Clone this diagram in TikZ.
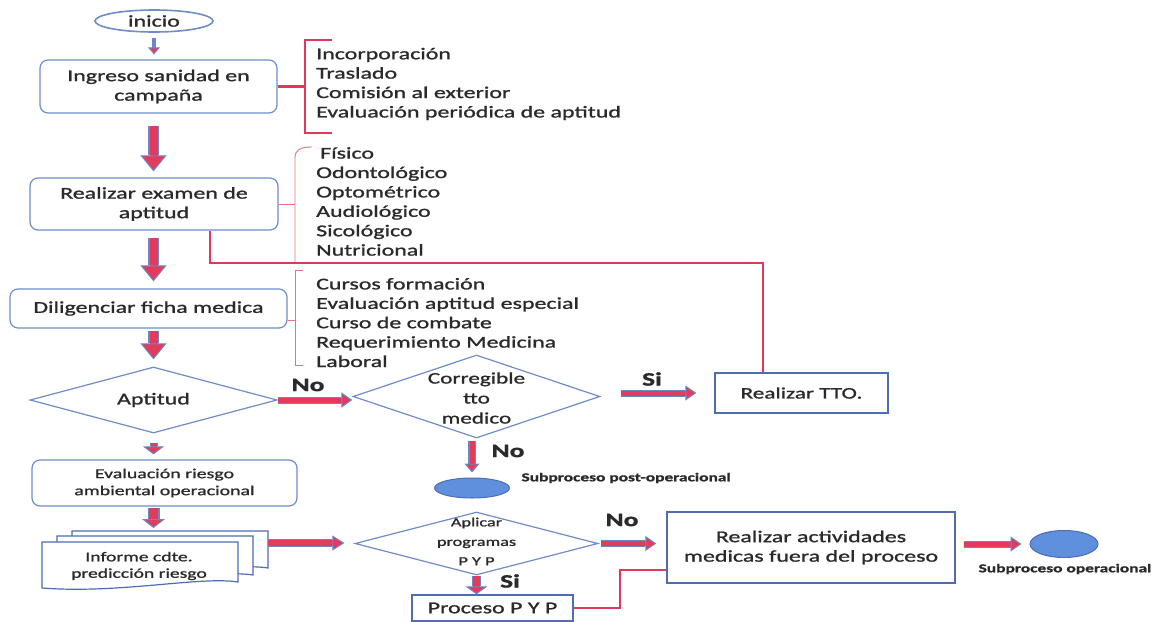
\documentclass[tikz,border=0pt]{standalone}
\usepackage{fontspec}
\setmainfont{Carlito}[FakeStretch=1.45, FakeBold=1.2]
\usetikzlibrary{shapes.geometric,arrows.meta}
\definecolor{arrred}{HTML}{E23B5C}
\definecolor{arrblue}{HTML}{6D86C6}
\definecolor{boxblue}{HTML}{6F8DC9}
\definecolor{boxblue2}{HTML}{4E6DB3}
\definecolor{brred}{HTML}{E0385A}
\definecolor{thinred}{HTML}{E8707F}
\definecolor{txtc}{HTML}{2A2A2A}
\definecolor{ellfill}{HTML}{5E90DE}
\begin{document}
\begin{tikzpicture}[x=1pt,y=-1pt,
  font=\fontsize{16.5}{19.5}\selectfont, text=txtc,
  rbox/.style={draw=boxblue, line width=1.2pt, rounded corners=8pt, fill=white, align=center, inner sep=0pt},
  sbox/.style={draw=boxblue2, line width=1.4pt, fill=white, align=center, inner sep=0pt},
  dia/.style={draw=boxblue, line width=1.2pt, diamond, inner sep=0pt},
  ctext/.style={align=center, inner sep=0pt},
  lbl/.style={font=\fontsize{19}{20}\selectfont\bfseries, text=txtc},
  small/.style={font=\fontsize{12}{14}\selectfont\bfseries, text=txtc},
  list/.style={anchor=west, align=left, inner sep=0pt, font=\fontsize{16.5}{19.4}\selectfont},
  docshape/.style={draw=boxblue2, line width=1.2pt, fill=white},
  br1/.style={draw=brred, line width=2.5pt},
  br2/.style={draw=thinred, line width=0.9pt},
  redline/.style={draw=brred, line width=1.6pt},
  barrow/.style n args={4}{draw=arrred, line width=#1, -{Triangle[width=#2,length=#3,line width=1pt,fill=arrred,color=arrblue]}, preaction={draw=arrblue, line width=#4, -, shorten >=#3}},
  ellnode/.style={ellipse, fill=ellfill, draw=boxblue2, line width=1pt, inner sep=0pt}
]
\useasboundingbox[fill=white] (0,0) rectangle (1172,621);

% ---- nodes ----
\node[draw=boxblue, line width=1.6pt, ellipse, minimum width=118pt, minimum height=22pt, inner sep=0pt, fill=white] (ini) at (154,21) {inicio};
\node[rbox, minimum width=237pt, minimum height=53pt] (ing) at (158.5,86.5) {Ingreso sanidad en\\campaña};
\node[rbox, minimum width=248pt, minimum height=52pt] (rea) at (154,204) {Realizar examen de\\aptitud};
\node[rbox, minimum width=277pt, minimum height=39pt] (dil) at (148.5,308.5) {Diligenciar ficha medica};
\node[dia, minimum width=247pt, minimum height=66pt] (apt) at (153.5,400) {};
\node[ctext] (aptt) at (apt) {Aptitud};
\node[rbox, minimum width=265pt, minimum height=46pt, font=\fontsize{13.7}{17}\selectfont] (eva) at (164.5,483) {Evaluación riesgo\\ambiental operacional};

% multi-document
\draw[docshape] (72,531) -- (268,531) -- (268,568) .. controls (230,562) and (150,580) .. (72,574) -- cycle;
\draw[docshape] (57,536) -- (253,536) -- (253,575) .. controls (215,569) and (135,587) .. (57,581) -- cycle;
\draw[docshape] (42,542) -- (238,542) -- (238,582) .. controls (200,576) and (120,594) .. (42,588) -- cycle;
\node[ctext, font=\fontsize{13.5}{16.5}\selectfont] (inf) at (139,566) {Informe cdte.\\predicción riesgo};
\coordinate (docT) at (153.5,531);
\coordinate (infR) at (268,543);

\node[dia, minimum width=247pt, minimum height=83pt] (cor) at (476.5,396.5) {};
\node[ctext, font=\fontsize{16}{20}\selectfont] (cort) at (476.5,398) {Corregible\\tto\\medico};
\node[sbox, minimum width=173pt, minimum height=40pt, font=\fontsize{16}{19}\selectfont] (tto) at (801.5,393) {Realizar TTO.};
\node[ellnode, minimum width=75pt, minimum height=20pt] (pop) at (472,488) {};
\node[small, anchor=west] (popt) at (518,478) {Subproceso post-operacional};

\node[dia, minimum width=243pt, minimum height=63pt] (apl) at (476.5,543.5) {};
\node[ctext, font=\fontsize{12.6}{19.5}\selectfont] (aplt) at (476.5,541.5) {Aplicar\\programas\\P Y P};
\node[sbox, minimum width=288pt, minimum height=71pt] (act) at (811,547.5) {Realizar actividades\\medicas fuera del proceso};
\node[sbox, minimum width=161pt, minimum height=26pt] (pyp) at (492.5,608) {Proceso P Y P};
\node[ellnode, minimum width=68pt, minimum height=27pt] (opl) at (1064,544) {};
\node[small] (oplt) at (1065,569) {Subproceso operacional};

% lists
\node[list] (l1) at (316,84) {Incorporación\\Traslado\\Comisión al exterior\\Evaluación periódica de aptitud};
\node[list] (l2) at (316,201.5) {\hspace{4pt}Físico\\Odontológico\\Optométrico\\Audiológico\\Sicológico\\Nutricional};
\node[list] (l3) at (316,322.6) {Cursos formación\\Evaluación aptitud especial\\Curso de combate\\Requerimiento Medicina\\Laboral};

% labels
\node[lbl] (no1) at (308,385) {No};
\node[lbl] (si1) at (652,379) {Si};
\node[lbl] (no2) at (508,451) {No};
\node[lbl] (no3) at (622,520) {No};
\node[lbl] (si2) at (510,581) {Si};

% ---- brackets and red lines ----
\draw[br1] (ing.east) -- (305,86.5);
\draw[br1] (332,40) -- (305,40) -- (305,133) -- (332,133);
\draw[br2] (rea.east) -- (295,204);
\draw[br2] (312,147) .. controls (300,147) and (295,150) .. (295,158) -- (295,263);
\draw[br2] ([yshift=-11.5pt]dil.east) -- (295,320);
\draw[br2] (303,270) -- (295,270) -- (295,365) -- (303,365);
\coordinate (c1) at (763,263);
\draw[redline] ([xshift=56pt]rea.south) |- (c1) -- ([xshift=-38.5pt]tto.north);
\coordinate (c2) at (620,570);
\draw[br1] (pyp.east) -| (c2) -- (act.west |- c2);

% ---- arrows ----
\draw[barrow={4pt}{12pt}{7pt}{4pt}, draw=arrblue] ([yshift=-5pt]ini.south) -- ([yshift=5pt]ini.south |- ing.north);
\draw[barrow={8pt}{26pt}{16pt}{10.5pt}] ([yshift=-12pt]ing.south -| apt.north) -- ([yshift=6pt]rea.north -| apt.north);
\draw[barrow={8pt}{26pt}{16pt}{10.5pt}] ([yshift=-7pt]rea.south -| apt.north) -- ([yshift=7pt]dil.north -| apt.north);
\draw[barrow={8pt}{26pt}{16pt}{10.5pt}] ([yshift=-2pt]dil.south -| apt.north) -- ([yshift=7pt]apt.north);
\draw[barrow={6pt}{21pt}{8pt}{8pt}] ([yshift=-9pt]apt.south) -- ([yshift=5pt]eva.north -| apt.south);
\draw[barrow={9pt}{23pt}{9pt}{12pt}] ([yshift=-1pt]eva.south -| apt.south) -- ([yshift=3pt]docT);
\draw[barrow={5pt}{15pt}{11pt}{7pt}] (apt.east |- 0,400) -- (cor.west |- 0,400);
\draw[barrow={5pt}{15pt}{11pt}{7pt}] ([xshift=20pt]cor.east |- tto.west) -- ([xshift=-18pt]tto.west);
\draw[barrow={5pt}{15pt}{9pt}{7.5pt}] ([yshift=-2pt]cor.south -| pop.north) -- ([yshift=5pt]pop.north);
\draw[barrow={6pt}{15pt}{12pt}{8.5pt}] (infR) -- ([xshift=-10pt]apl.west |- infR);
\draw[barrow={5pt}{15pt}{11pt}{7pt}] ([xshift=2pt]apl.east) -- ([xshift=-10pt]act.west |- apl.east);
\draw[barrow={7pt}{22pt}{8pt}{9.5pt}] (apl.south) -- (apl.south |- pyp.north);
\draw[barrow={5pt}{15pt}{11pt}{7pt}] ([xshift=8pt]act.east |- opl.west) -- ([xshift=-8pt]opl.west);
\end{tikzpicture}
\end{document}
